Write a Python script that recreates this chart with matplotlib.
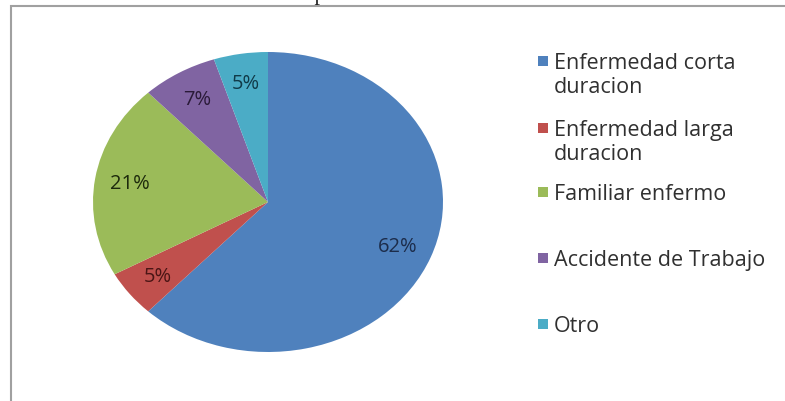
import matplotlib.pyplot as plt
from matplotlib.patches import Rectangle

# absence causes (%)
causas = ["Enfermedad corta\nduracion", "Enfermedad larga\nduracion",
          "Familiar enfermo", "Accidente de Trabajo", "Otro"]
porcentajes = [62, 5, 21, 7, 5]
colores = ["#4F81BD", "#C0504D", "#9BBB59", "#8064A2", "#4BACC6"]
colores_texto = ["#1c2c4a", "#4a1515", "#1d2a0c", "#2a1a38", "#103a48"]
titulo = "Grafica 1: Composicion de las ausencias"

W, H = 785, 402
fig = plt.figure(figsize=(W / 100, H / 100), dpi=100)

# chart frame (runs off the right and bottom edges)
fig.patches.append(Rectangle((11 / W, -0.1), 1.2, (H - 7) / H + 0.1,
                             transform=fig.transFigure, facecolor="none",
                             edgecolor="#a0a0a0", linewidth=1.5, zorder=0))

# title, mostly cut off at the top
fig.text(357 / W, H / H, titulo, ha="center", va="baseline",
         family="Liberation Serif", fontsize=16, color="#222222")

# elliptical pie
ax = fig.add_axes([93 / W, (H - 353) / H, 350 / W, 300 / H])
wedges, _, autotexts = ax.pie(porcentajes, colors=colores, startangle=90,
                              counterclock=False, autopct="%d%%",
                              pctdistance=0.8,
                              wedgeprops=dict(linewidth=0))
ax.set_aspect("auto")
ax.set_xlim(-1, 1)
ax.set_ylim(-1, 1)
for t, c in zip(autotexts, colores_texto):
    t.set_color(c)
    t.set_fontsize(14.5)
    t.set_family("Open Sans")

# legend entries (baseline of first line, px from top)
legend_y = [69, 136, 200, 266, 332]
for nombre, col, y in zip(causas, colores, legend_y):
    fig.patches.append(Rectangle((538 / W, (H - y + 2) / H), 10 / W, 10 / H,
                                 transform=fig.transFigure, facecolor=col,
                                 edgecolor="none"))
    for i, linea in enumerate(nombre.split("\n")):
        fig.text(554 / W, (H - y - 24 * i) / H, linea, ha="left",
                 va="baseline", family="Open Sans", fontsize=15.5,
                 color="#303030")

fig.savefig("out.png", dpi=100)
